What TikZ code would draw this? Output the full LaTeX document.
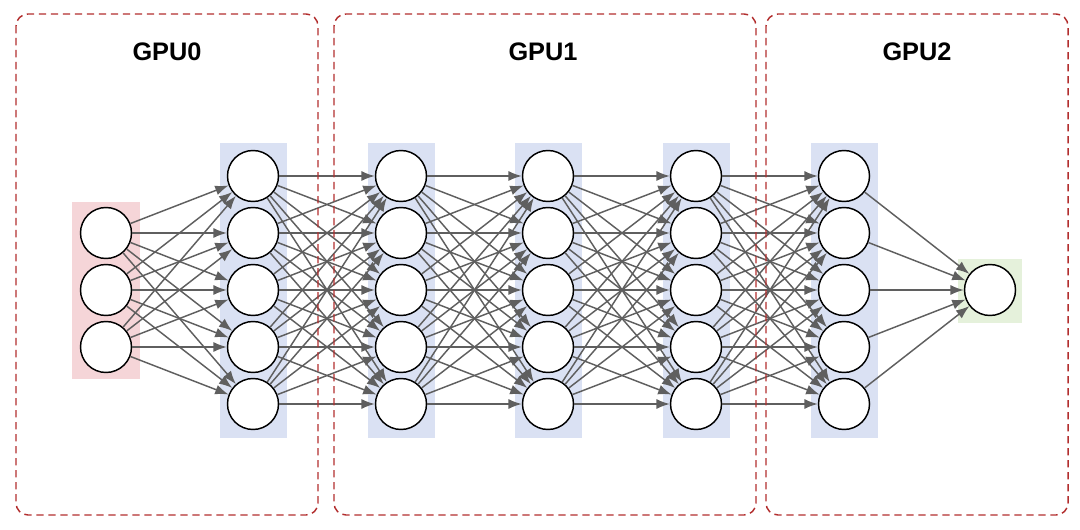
\documentclass[tikz,border=0pt]{standalone}
\usepackage{fontspec}
\setmainfont{Liberation Sans}
\usetikzlibrary{arrows.meta}
\definecolor{boxred}{HTML}{B22E2E}
\definecolor{inpink}{HTML}{F5D5D8}
\definecolor{hidblue}{HTML}{DAE1F3}
\definecolor{outgreen}{HTML}{E5F1DB}
\definecolor{edgegray}{HTML}{5F5F5F}
\begin{document}
\begin{tikzpicture}[x=0.75pt,y=-0.75pt,
  neuron/.style={circle,draw=black,line width=1.1pt,fill=white,minimum size=38.25pt,inner sep=0pt},
  conn/.style={draw=edgegray,line width=1.1pt,-{Latex[length=10pt,width=7.5pt]}},
  gpubox/.style={draw=boxred,line width=1.1pt,dash pattern=on 5.5pt off 3.5pt,rounded corners=9pt},
  gpulabel/.style={font=\fontsize{19}{22}\selectfont\bfseries}]
\useasboundingbox (0,0) rectangle (1080,530);
% layer backgrounds
\fill[inpink] (72,202) rectangle (140,379);
\foreach \xc in {253,401,548,696,844}{
  \fill[hidblue] (\xc-33.5,143) rectangle (\xc+33.5,438);
}
\fill[outgreen] (958,259) rectangle (1022,323);
% neurons
\foreach \i/\yy in {1/233,2/290,3/347}{
  \node[neuron] (i\i) at (106,\yy) {};
}
\foreach \l/\xc in {1/253,2/401,3/548,4/696,5/844}{
  \foreach \j/\yy in {1/176,2/233,3/290,4/347,5/404}{
    \node[neuron] (h\l-\j) at (\xc,\yy) {};
  }
}
\node[neuron] (o) at (990,290) {};
% connections
\foreach \i in {1,2,3}{
  \foreach \j in {1,...,5}{
    \draw[conn] (i\i) -- (h1-\j);
  }
}
\foreach \l/\m in {1/2,2/3,3/4,4/5}{
  \foreach \i in {1,...,5}{
    \foreach \j in {1,...,5}{
      \draw[conn] (h\l-\i) -- (h\m-\j);
    }
  }
}
\foreach \i in {1,...,5}{
  \draw[conn] (h5-\i) -- (o);
}
% GPU boxes
\draw[gpubox] (16,14) rectangle (318,515);
\draw[gpubox] (334,14) rectangle (756,515);
\draw[gpubox] (766,14) rectangle (1068,515);
\node[gpulabel] (g0) at (167,52) {GPU0};
\node[gpulabel] (g1) at (543,52) {GPU1};
\node[gpulabel] (g2) at (917,52) {GPU2};
\end{tikzpicture}
\end{document}
